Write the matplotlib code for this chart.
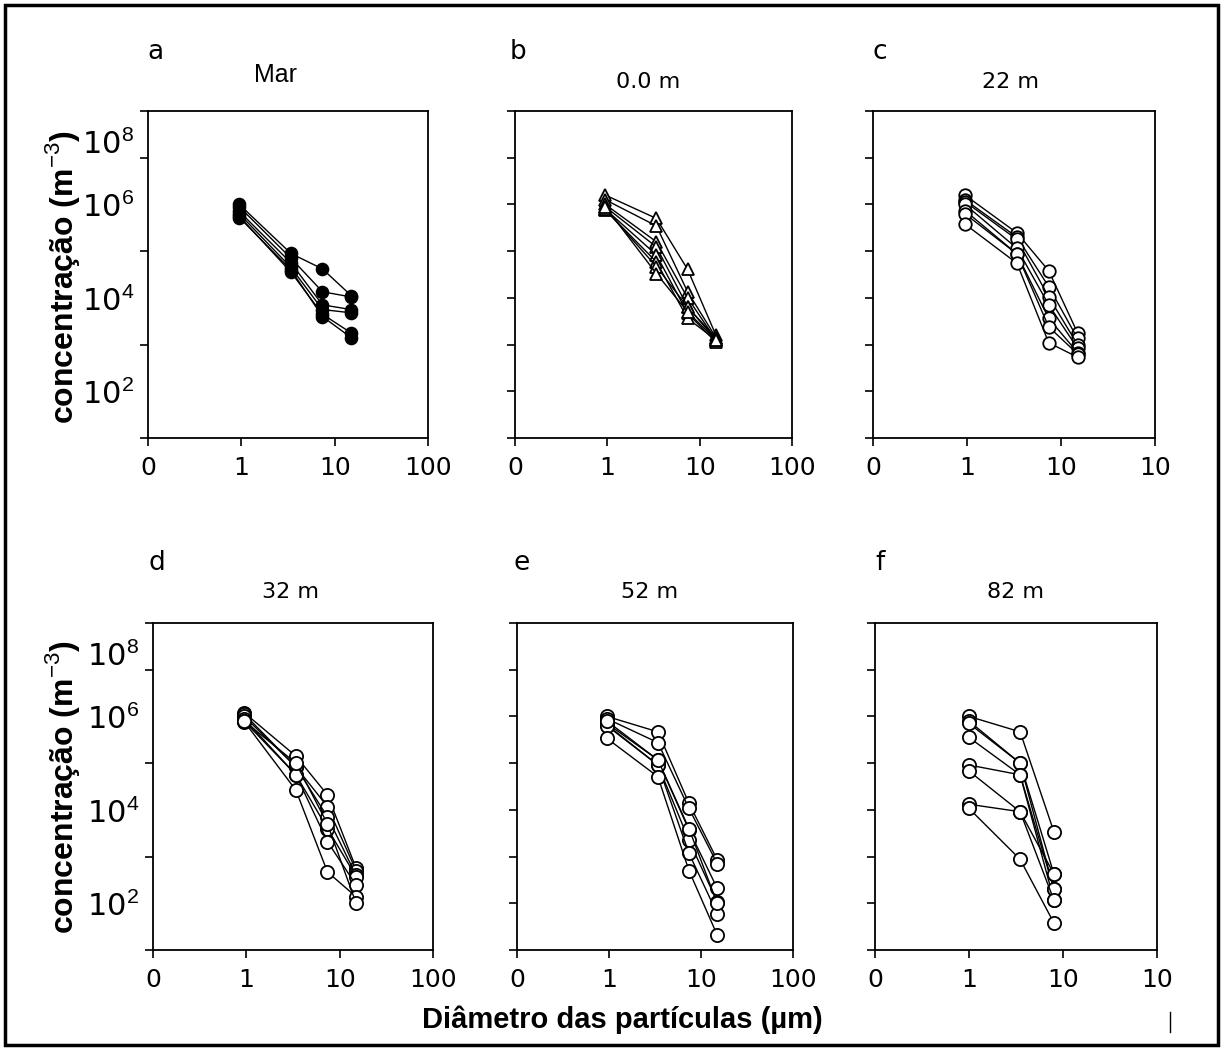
import matplotlib
matplotlib.use('Agg')
import matplotlib.pyplot as plt
from matplotlib.ticker import FixedLocator, NullFormatter
from matplotlib.patches import Rectangle
from matplotlib.lines import Line2D

plt.rcParams['mathtext.fontset'] = 'custom'
plt.rcParams['mathtext.rm'] = 'Liberation Sans'
plt.rcParams['mathtext.bf'] = 'Liberation Sans:bold'

W, H = 1225, 1048

# particle diameter classes (um)
diam = [0.95, 3.4, 7.4, 15]
diam_82 = [1.0, 3.5, 8.0]

# log10 of concentration (m^-3), one row per profile
conc_mar = [
    [6.00, 4.95, 4.62, 4.05],
    [5.95, 4.85, 4.13, 4.02],
    [5.85, 4.75, 3.85, 3.75],
    [5.80, 4.65, 3.75, 3.68],
    [5.75, 4.55, 3.65, 3.25],
    [5.72, 4.60, 3.60, 3.15],
]
conc_00 = [
    [6.20, 5.70, 4.61, 3.20],
    [6.10, 5.54, 4.13, 3.15],
    [6.00, 5.20, 4.00, 3.10],
    [5.95, 5.09, 3.81, 3.10],
    [5.90, 4.92, 3.67, 3.05],
    [5.88, 4.77, 3.56, 3.10],
    [5.90, 4.67, 3.80, 3.15],
    [5.95, 4.52, 3.70, 3.10],
]
conc_22 = [
    [6.20, 5.39, 4.58, 3.25],
    [6.10, 5.30, 4.24, 3.13],
    [6.06, 5.25, 4.02, 3.00],
    [6.00, 5.06, 3.85, 2.92],
    [5.87, 4.94, 3.56, 2.83],
    [5.80, 4.94, 3.38, 2.80],
    [5.58, 4.74, 3.04, 2.73],
]
conc_32 = [
    [6.08, 5.15, 4.32, 2.75],
    [6.05, 4.92, 4.07, 2.70],
    [6.00, 4.92, 3.85, 2.60],
    [5.95, 4.75, 3.60, 2.57],
    [5.90, 4.75, 3.32, 2.39],
    [5.89, 4.42, 2.67, 2.14],
    [5.90, 5.00, 3.70, 2.00],
]
conc_52 = [
    [6.00, 5.67, 4.14, 2.93],
    [5.95, 5.44, 4.03, 2.85],
    [5.85, 5.07, 3.57, 2.32],
    [5.82, 4.96, 3.35, 2.03],
    [5.80, 4.96, 3.07, 1.78],
    [5.53, 4.71, 2.70, 1.32],
    [5.90, 5.07, 3.60, 2.00],
]
conc_82 = [
    [6.00, 5.67, 3.53],
    [5.90, 5.00, 2.63],
    [5.85, 5.00, 2.30],
    [5.55, 4.75, 2.07],
    [4.96, 4.75, 2.30],
    [4.83, 3.96, 2.07],
    [4.12, 3.96, 2.63],
    [4.03, 2.94, 1.58],
]

letters = ['a', 'b', 'c', 'd', 'e', 'f']
titles = ['Mar', '0.0 m', '22 m', '32 m', '52 m', '82 m']
xlabels_100 = ['0', '1', '10', '100']
xlabels_10 = ['0', '1', '10', '10']
ylabels = ['10$^{2}$', '10$^{4}$', '10$^{6}$', '10$^{8}$']


def px_box(x0, y0, x1, y1):
    """ pixel box (top-left origin) -> figure fraction rect """
    return [x0 / W, 1 - y1 / H, (x1 - x0) / W, (y1 - y0) / H]


def fig_text(fig, x, y, s, **kw):
    fig.text(x / W, 1 - y / H, s, ha='center', va='center', **kw)


fig = plt.figure(figsize=(W / 100, H / 100), dpi=100)

panels = [
    (px_box(148, 111, 428, 438), diam, conc_mar, dict(marker='o', mfc='k', ms=8.5), xlabels_100),
    (px_box(515, 111, 792, 438), diam, conc_00, dict(marker='^', mfc='white', ms=8), xlabels_100),
    (px_box(873, 111, 1155, 438), diam, conc_22, dict(marker='o', mfc='white', ms=9), xlabels_10),
    (px_box(153, 623, 433, 950), diam, conc_32, dict(marker='o', mfc='white', ms=9.5), xlabels_100),
    (px_box(517, 623, 793, 950), diam, conc_52, dict(marker='o', mfc='white', ms=9.5), xlabels_100),
    (px_box(875, 623, 1157, 950), diam_82, conc_82, dict(marker='o', mfc='white', ms=9.5), xlabels_10),
]

for i, (rect, x, rows, mstyle, xlab) in enumerate(panels):
    ax = fig.add_axes(rect)
    for row in rows:
        ax.plot(x, [10 ** v for v in row], color='k', lw=1.0, mec='k', mew=1.3, **mstyle)

    ax.set_xscale('log')
    ax.set_yscale('log')
    ax.set_xlim(0.1, 100)
    ax.set_ylim(10, 1e8)

    ax.xaxis.set_major_locator(FixedLocator([0.1, 1, 10, 100]))
    ax.xaxis.set_minor_locator(FixedLocator([]))
    ax.set_xticklabels(xlab, fontsize=18, family='DejaVu Sans')
    ax.tick_params(axis='x', which='major', direction='out', length=6, width=1.2, pad=7)

    # decade ticks as minor marks, labels placed as majors
    ax.yaxis.set_minor_locator(FixedLocator([10 ** k for k in range(1, 9)]))
    ax.yaxis.set_minor_formatter(NullFormatter())
    ax.tick_params(axis='y', which='minor', direction='out', length=6, width=1.2)
    if i % 3 == 0:
        label_pos = [1e2, 1e4, 1e6, 10 ** 7.35]
        ax.yaxis.set_major_locator(FixedLocator(label_pos))
        ax.set_yticklabels(ylabels, fontsize=22)
        ax.tick_params(axis='y', which='major', length=0, pad=10)
    else:
        ax.yaxis.set_major_locator(FixedLocator([]))

    for sp in ax.spines.values():
        sp.set_linewidth(1.3)

# panel letters and titles
letter_pos = [(155, 52), (518, 52), (880, 52), (157, 563), (522, 563), (880, 563)]
title_pos = [(275, 75), (648, 82), (1010, 82), (290, 592), (650, 592), (1015, 592)]
for s, (px, py) in zip(letters, letter_pos):
    fig_text(fig, px, py, s, fontsize=19, family='DejaVu Sans')
for j, (s, (px, py)) in enumerate(zip(titles, title_pos)):
    if j == 0:
        fig_text(fig, px, py, s, fontsize=18, family='Liberation Sans')
    else:
        fig_text(fig, px, py, s, fontsize=16, family='DejaVu Sans')

# shared axis labels
ylab = 'concentração (m$^{-3}$)'
fig_text(fig, 62, 277, ylab, fontsize=23, fontweight='bold', family='Liberation Sans', rotation=90)
fig_text(fig, 62, 787, ylab, fontsize=23, fontweight='bold', family='Liberation Sans', rotation=90)
fig_text(fig, 622, 1020, 'Diâmetro das partículas (µm)', fontsize=21, fontweight='bold',
         family='Liberation Sans')

# outer frame and stray mark
fig.add_artist(Rectangle((5 / W, 3 / H), 1213 / W, 1040 / H, transform=fig.transFigure,
                         fill=False, lw=2.5, ec='k'))
fig.add_artist(Line2D([1170 / W, 1170 / W], [1 - 1012 / H, 1 - 1032 / H],
                      transform=fig.transFigure, color='k', lw=1))

fig.savefig('out.png', dpi=100)
